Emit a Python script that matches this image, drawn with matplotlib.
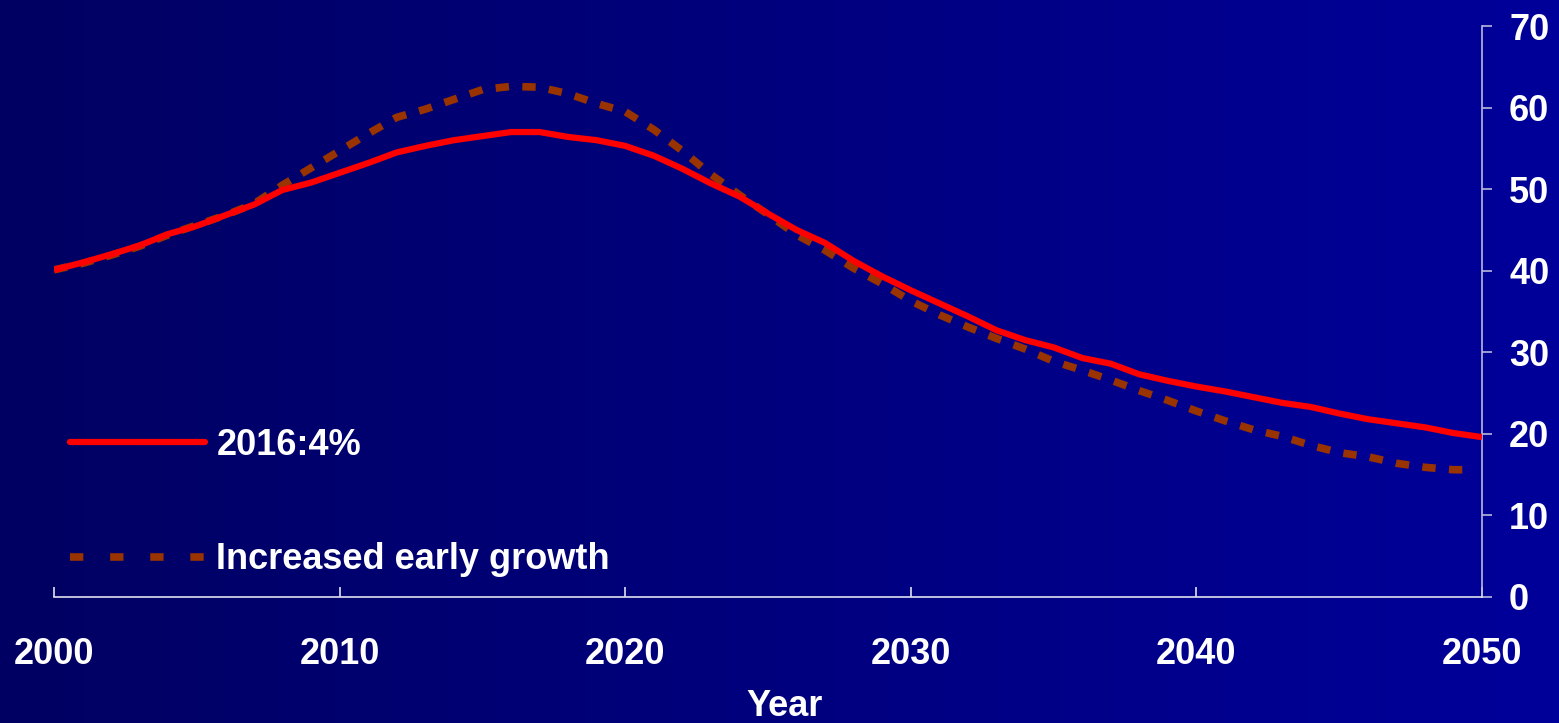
import numpy as np
import matplotlib
matplotlib.use("Agg")
import matplotlib.pyplot as plt
from matplotlib.lines import Line2D
from matplotlib.colors import LinearSegmentedColormap

# Projected values, baseline scenario (2016 at 4%)
years_base = list(range(2000, 2051))
values_base = [40.1, 41.0, 42.0, 43.1, 44.5, 45.5, 46.8, 48.1, 49.9, 50.8,
               52.0, 53.2, 54.5, 55.3, 56.0, 56.5, 57.0, 57.0, 56.4, 56.0,
               55.3, 54.1, 52.5, 50.7, 49.1, 47.0, 45.0, 43.4, 41.2, 39.3,
               37.6, 36.0, 34.4, 32.7, 31.5, 30.6, 29.3, 28.6, 27.3, 26.5,
               25.8, 25.2, 24.5, 23.8, 23.3, 22.5, 21.8, 21.3, 20.8, 20.1,
               19.6]

# Scenario with increased early growth
years_early = list(range(2000, 2050)) + [2049.5]
values_early = [40.1, 40.9, 41.9, 43.0, 44.4, 45.6, 46.8, 48.2, 50.5, 52.6,
                54.7, 56.8, 58.8, 59.8, 61.0, 62.2, 62.6, 62.5, 61.7, 60.5,
                59.5, 57.3, 54.7, 51.8, 49.3, 46.9, 44.4, 42.5, 40.3, 38.4,
                36.3, 34.6, 33.1, 31.7, 30.4, 28.9, 27.8, 26.6, 25.3, 24.1,
                22.8, 21.6, 20.5, 19.7, 18.6, 17.7, 17.2, 16.4, 15.9, 15.6,
                15.6]

labels = ["2016:4%", "Increased early growth"]
x_ticks = [2000, 2010, 2020, 2030, 2040, 2050]
y_ticks = [0, 10, 20, 30, 40, 50, 60, 70]

plt.rcParams['font.family'] = ['Liberation Sans', 'DejaVu Sans']
plt.rcParams['font.weight'] = 'bold'

W, H = 1559, 723
fig = plt.figure(figsize=(W / 100, H / 100), dpi=100)

# horizontal blue gradient behind everything
bg = fig.add_axes([0, 0, 1, 1], zorder=-10)
bg.set_axis_off()
cmap = LinearSegmentedColormap.from_list("bg", ["#000062", "#00009a"])
bg.imshow(np.linspace(0, 1, 256).reshape(1, -1), cmap=cmap, aspect='auto',
          extent=[0, 1, 0, 1])

ax = fig.add_axes([54 / W, (H - 597) / H, 1428 / W, 571 / H])
ax.set_facecolor('none')

red = '#ff0000'
brown = '#993300'

ax.plot(years_base, values_base, color=red, lw=4.5, solid_capstyle='butt',
        solid_joinstyle='round', zorder=3)
ax.plot(years_early, values_early, color=brown, lw=5.5,
        linestyle=(0, (1.75, 1.75)), dash_capstyle='butt', zorder=2)

ax.set_xlim(2000, 2050)
ax.set_ylim(0, 70)

for s in ['left', 'top']:
    ax.spines[s].set_visible(False)
ax.spines['bottom'].set_color('#e0e0f0')
ax.spines['bottom'].set_linewidth(1.2)
ax.spines['right'].set_color('#b8b8d8')
ax.spines['right'].set_linewidth(1.2)

ax.set_xticks(x_ticks)
ax.set_yticks(y_ticks)
ax.yaxis.tick_right()
ax.tick_params(axis='x', direction='in', length=7, width=1.2, color='#e0e0f0',
               pad=29, labelsize=26, labelcolor='white')
ax.tick_params(axis='y', direction='out', length=7.5, width=1.2, color='#b8b8d8',
               pad=12, labelsize=26, labelcolor='white')
for t in ax.get_xticklabels() + ax.get_yticklabels():
    t.set_fontweight('bold')

fig.text(785 / W, (H - 707) / H, "Year", ha='center', va='center',
         color='white', fontsize=26, fontweight='bold')

handles = [
    Line2D([], [], color=red, lw=4.5, solid_capstyle='round'),
    Line2D([], [], color=brown, lw=5.5, linestyle=(0, (1.75, 3.5)),
           dash_capstyle='butt'),
]
leg = ax.legend(handles, labels, loc='upper left',
                bbox_to_anchor=(70 / W, (H - 428) / H),
                bbox_transform=fig.transFigure, frameon=False,
                handlelength=3.75, handletextpad=0.3, labelspacing=2.2,
                borderpad=0, borderaxespad=0,
                prop={'size': 26, 'weight': 'bold'})
for t in leg.get_texts():
    t.set_color('white')

fig.savefig("out.png", dpi=100)
